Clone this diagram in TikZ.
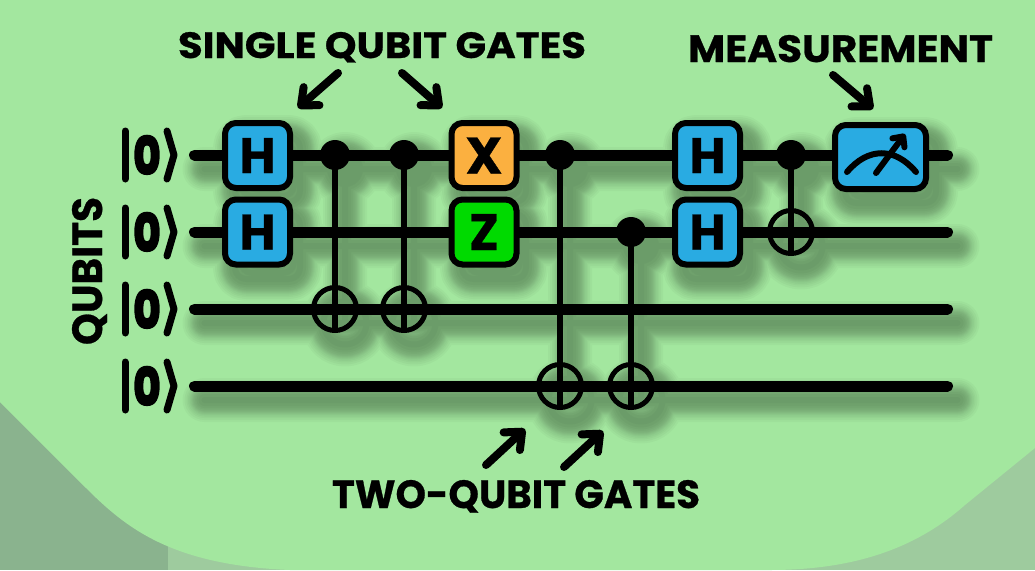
\documentclass[tikz,border=0pt]{standalone}
\usepackage{fontspec}
\usepackage{graphicx}
\setmainfont{Poppins}[BoldFeatures={FakeBold=0.7}]
\newfontfamily\zerofont{Poppins}[UprightFont=* Bold,FakeBold=5]
\usetikzlibrary{arrows.meta}
\definecolor{bggreen}{HTML}{A3E79F}
\definecolor{cornerdark}{HTML}{8AB38E}
\definecolor{cornerlight}{HTML}{9ECB9E}
\definecolor{gblue}{HTML}{29ABE2}
\definecolor{gorange}{HTML}{FBB040}
\definecolor{ggreen}{HTML}{00DA00}
\newcommand{\fit}[3]{\resizebox{#1pt}{#2pt}{\bfseries #3}}
% shadow box / dot: stroked concentric outlines so that one stroke paints them evenly
\newcommand{\shbox}[4]{(#1,#2) rectangle (#3,#4) (#1+6,#2+6) rectangle (#3-6,#4-6) (#1+12,#2+12) rectangle (#3-12,#4-12)}
\newcommand{\shdot}[2]{(#1,#2) circle[radius=15] (#1,#2) circle[radius=9] (#1,#2) circle[radius=3]}
\newcommand{\shadowgeom}{%
  (194.5,155)--(947.5,155) (194.5,232)--(947.5,232) (194.5,309)--(947.5,309) (194.5,386)--(947.5,386)
  (335,155)--(335,309) (404,155)--(404,309) (560,155)--(560,386) (631,232)--(631,386) (791,155)--(791,232)
  \shdot{335}{155} \shdot{404}{155} \shdot{560}{155} \shdot{631}{232} \shdot{791}{155}
  (335,309) circle[radius=21.5] (404,309) circle[radius=21.5] (560,386) circle[radius=21.5]
  (631,386) circle[radius=21.5] (791,232) circle[radius=21.5]
  [rounded corners=11pt]
  \shbox{225}{123}{290}{188} \shbox{225}{200}{290}{265}
  \shbox{452}{123}{516}{188} \shbox{452}{200}{516}{265}
  \shbox{675}{123}{740}{188} \shbox{675}{200}{740}{265}
  \shbox{835}{125}{926}{189}}
\tikzset{
  x=1pt,y=-1pt,
  wire/.style={line width=11pt,line cap=round},
  ctrl/.style={line width=6pt},
  dot/.style={circle,fill=black,minimum size=30pt,inner sep=0pt},
  target/.style={circle,draw=black,line width=5pt,minimum size=43pt,inner sep=0pt},
  gate/.style={draw=black,line width=6pt,rounded corners=11pt,minimum size=65pt,inner sep=0pt,text=black},
  lbl/.style={anchor=base,inner sep=0pt,text=black},
  pointer/.style={line width=8pt,line cap=round,line join=round,-{Straight Barb[round,length=14pt,width=24pt]}},
  ketline/.style={line width=7pt,line cap=round,line join=round},
  zero/.style={inner sep=0pt,text=black},
}
\begin{document}
\begin{tikzpicture}
\path[use as bounding box] (0,0) rectangle (1035,570);
% background
\fill[cornerlight] (0,0) rectangle (1035,570);
\fill[cornerdark] (0,380) rectangle (168,570);
\fill[bggreen] (0,0)--(1035,0)--(1035,448)--(965,505) .. controls (920,545) and (860,570) .. (770,570)
  --(290,570) .. controls (170,565) and (125,527) .. (85,487)--(0,402)--cycle;
% blurred shadows
\begin{scope}[shift={(10,14)}]
\foreach \w in {6,12,16,19,22,24,26,28,30,33,36,40,44}{
  \path[draw=black,opacity=0.026,line width=\w pt,line cap=round,line join=round] \shadowgeom;
}
\end{scope}
% wires
\coordinate (w1a) at (194.5,155); \coordinate (w1b) at (947.5,155);
\coordinate (w2a) at (194.5,232); \coordinate (w2b) at (947.5,232);
\coordinate (w3a) at (194.5,309); \coordinate (w3b) at (947.5,309);
\coordinate (w4a) at (194.5,386); \coordinate (w4b) at (947.5,386);
\draw[wire] (w1a)--(w1b);
\draw[wire] (w2a)--(w2b);
\draw[wire] (w3a)--(w3b);
\draw[wire] (w4a)--(w4b);
% CNOTs
\node[dot] (c1) at (335,155) {};
\node[dot] (c2) at (404,155) {};
\node[dot] (c3) at (560,155) {};
\node[dot] (c4) at (631,232) {};
\node[dot] (c5) at (791,155) {};
\node[target] (t1) at (335,309) {};
\node[target] (t2) at (404,309) {};
\node[target] (t3) at (560,386) {};
\node[target] (t4) at (631,386) {};
\node[target] (t5) at (791,232) {};
\draw[ctrl] (c1.center)--(t1.south);
\draw[ctrl] (c2.center)--(t2.south);
\draw[ctrl] (c3.center)--(t3.south);
\draw[ctrl] (c4.center)--(t4.south);
\draw[ctrl] (c5.center)--(t5.south);
% gates
\node[gate,fill=gblue] (h1) at (257.5,155.5) {\fit{36}{35}{H}};
\node[gate,fill=gblue] (h2) at (257.5,232) {\fit{36}{35}{H}};
\node[gate,fill=gorange] (x1) at (484,155.5) {\fit{37}{36}{X}};
\node[gate,fill=ggreen] (z1) at (484,232) {\fit{30}{36}{Z}};
\node[gate,fill=gblue] (h3) at (707.5,155.5) {\fit{36}{35}{H}};
\node[gate,fill=gblue] (h4) at (707.5,232) {\fit{36}{35}{H}};
\node[gate,fill=gblue,minimum width=91pt,minimum height=64pt] (m1) at (880.5,157) {};
\draw[line width=6pt,line cap=round] (847,172) .. controls (868,147) and (895,147) .. (916,172);
\draw[line width=6pt,line cap=round,line join=round,-{Straight Barb[round,length=8pt,width=15pt]}] (876,173)--(905,134);
% kets
\foreach \n/\y in {a/155,b/232,c/309,d/386}{
  \draw[ketline] (125,\y-24)--(125,\y+24);
  \draw[ketline] (167,\y-24)--(174,\y)--(167,\y+24);
  \node[zero] (zero\n) at (147,\y) {\resizebox{27pt}{38pt}{\zerofont 0}};
}
% labels
\node[lbl] (single) at (382,58) {\fit{408}{26}{SINGLE QUBIT GATES}};
\node[lbl] (meas) at (840.5,62) {\fit{305}{27}{MEASUREMENT}};
\node[lbl] (two) at (516,508) {\fit{368}{28}{TWO-QUBIT GATES}};
\node[lbl,rotate=90] (qubits) at (102,271) {\fit{148}{30}{QUBITS}};
% pointers
\coordinate (p1a) at (338,73); \coordinate (p1b) at (298,108);
\coordinate (p2a) at (402,73); \coordinate (p2b) at (442,108);
\coordinate (p3a) at (833,75); \coordinate (p3b) at (873,109);
\coordinate (p4a) at (486,465); \coordinate (p4b) at (525,429);
\coordinate (p5a) at (564,467); \coordinate (p5b) at (603,431);
\draw[pointer] (p1a)--(p1b);
\draw[pointer] (p2a)--(p2b);
\draw[pointer] (p3a)--(p3b);
\draw[pointer] (p4a)--(p4b);
\draw[pointer] (p5a)--(p5b);
\end{tikzpicture}
\end{document}
